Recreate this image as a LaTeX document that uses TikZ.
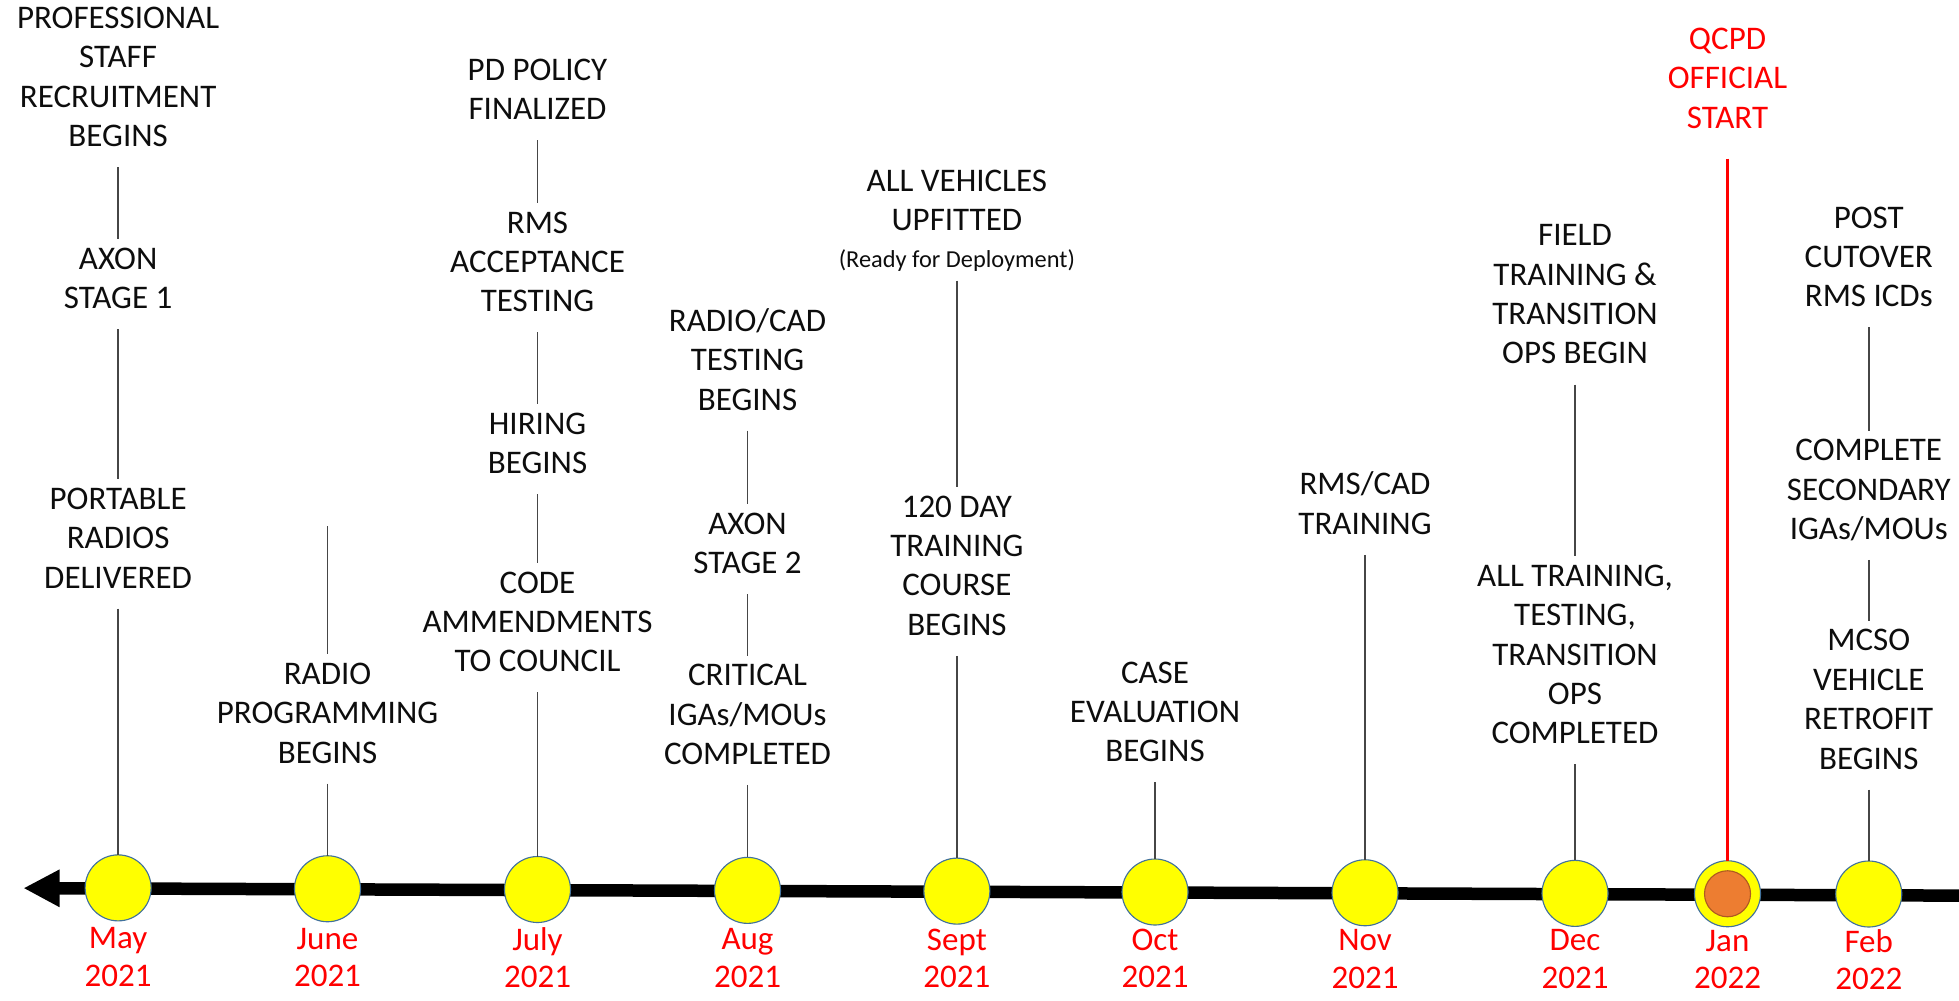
\documentclass[tikz,border=0pt]{standalone}
\usepackage{fontspec}
\setmainfont{Carlito}
\usetikzlibrary{arrows.meta}
\definecolor{dotyellow}{RGB}{255,255,0}
\definecolor{dotedge}{RGB}{65,113,156}
\definecolor{janorange}{RGB}{237,125,49}
\definecolor{janedge}{RGB}{174,90,33}
\definecolor{conngray}{RGB}{70,70,70}
\definecolor{txtblack}{RGB}{13,13,13}
\definecolor{redlbl}{RGB}{255,0,0}
\begin{document}
\begin{tikzpicture}[x=1pt,y=-1pt,
  txt/.style={align=center,inner sep=0pt,outer sep=7pt,text=txtblack,
    font=\fontsize{26.4pt}{31.5pt}\selectfont,
    execute at begin node=\strut,execute at end node=\strut,yshift=-2.2pt},
  small/.style={align=center,inner sep=0pt,outer sep=7pt,text=txtblack,
    font=\fontsize{19.5pt}{24pt}\selectfont,anchor=base},
  redtxt/.style={txt,text=redlbl},
  month/.style={txt,text=redlbl,outer sep=0pt,
    font=\fontsize{26.4pt}{30pt}\selectfont},
  dot/.style={circle,fill=dotyellow,draw=dotedge,line width=0.9pt,
    minimum size=52.8pt,inner sep=0pt,outer sep=0pt},
  inner/.style={circle,fill=janorange,draw=janedge,line width=0.9pt,
    minimum size=36.8pt,inner sep=0pt},
  conn/.style={draw=conngray,line width=1.4pt},
  redline/.style={draw=redlbl,line width=2.6pt},
  axis/.style={draw=black,line width=10pt,-{Triangle[length=29pt,width=28pt]}}
]
\useasboundingbox (0,0) rectangle (1567.2,800);

% axis
\coordinate (L) at (18.7,710.5);
\coordinate (R) at (1567.2,716.5);
\draw[axis] (R) -- (L);

% circles
\node[dot] (may)  at (94.5,710.3) {};
\node[dot] (june) at (262,711.0) {};
\node[dot] (july) at (430,711.6) {};
\node[dot] (aug)  at (598,712.3) {};
\node[dot] (sept) at (765.5,712.9) {};
\node[dot] (oct)  at (924,713.6) {};
\node[dot] (nov)  at (1092,714.2) {};
\node[dot] (dec)  at (1260,714.7) {};
\node[dot] (jan)  at (1382,715.0) {};
\node[inner] (janin) at (jan) {};
\node[dot] (feb)  at (1495,715.2) {};

% month labels
\node[month] (mmay)  at (94.5,768)  {May\\2021};
\node[month] (mjune) at (262,768.2) {June\\2021};
\node[month] (mjuly) at (430,768.4) {July\\2021};
\node[month] (maug)  at (598,768.7) {Aug\\2021};
\node[month] (msept) at (765.5,768.9) {Sept\\2021};
\node[month] (moct)  at (924,769.1) {Oct\\2021};
\node[month] (mnov)  at (1092,769.3) {Nov\\2021};
\node[month] (mdec)  at (1260,769.6) {Dec\\2021};
\node[month] (mjan)  at (1382,769.8) {Jan\\2022};
\node[month] (mfeb)  at (1495,770) {Feb\\2022};

% May
\node[txt] (mA) at (94.5,64) {PROFESSIONAL\\STAFF\\RECRUITMENT\\BEGINS};
\node[txt] (mB) at (94.5,225) {AXON\\STAGE 1};
\node[txt] (mC) at (94.5,433) {PORTABLE\\RADIOS\\DELIVERED};
\draw[conn] (mA) -- (mB);
\draw[conn] (mB) -- (mC);
\draw[conn] (mC) -- (may);

% June
\coordinate (jtop) at (262,421);
\node[txt] (jA) at (262,573) {RADIO\\PROGRAMMING\\BEGINS};
\draw[conn] (jtop) -- (jA);
\draw[conn] (jA) -- (june);

% July
\node[txt] (lA) at (430,74) {PD POLICY\\FINALIZED};
\node[txt] (lB) at (430,212) {RMS\\ACCEPTANCE\\TESTING};
\node[txt] (lC) at (430,357) {HIRING\\BEGINS};
\node[txt] (lD) at (430,500) {CODE\\AMMENDMENTS\\TO COUNCIL};
\draw[conn] (lA) -- (lB);
\draw[conn] (lB) -- (lC);
\draw[conn] (lC) -- (lD);
\draw[conn] (lD) -- (july);

% Aug
\node[txt] (aA) at (598,290) {RADIO/CAD\\TESTING\\BEGINS};
\node[txt] (aB) at (598,437) {AXON\\STAGE 2};
\node[txt] (aC) at (598,574) {CRITICAL\\IGAs/MOUs\\COMPLETED};
\draw[conn] (aA) -- (aB);
\draw[conn] (aB) -- (aC);
\draw[conn] (aC) -- (aug);

% Sept
\node[txt] (sA) at (765.5,163) {ALL VEHICLES\\UPFITTED};
\node[small] (sR) at (765.5,214.3) {(Ready for Deployment)};
\node[txt] (sB) at (765.5,455) {120 DAY\\TRAINING\\COURSE\\BEGINS};
\draw[conn] (sR) -- (sB);
\draw[conn] (sB) -- (sept);

% Oct
\node[txt] (oA) at (924,572) {CASE\\EVALUATION\\BEGINS};
\draw[conn] (oA) -- (oct);

% Nov
\node[txt] (nA) at (1092,405) {RMS/CAD\\TRAINING};
\draw[conn] (nA) -- (nov);

% Dec
\node[txt] (dA) at (1260,238) {FIELD\\TRAINING \&\\TRANSITION\\OPS BEGIN};
\node[txt] (dB) at (1260,526) {ALL TRAINING,\\TESTING,\\TRANSITION\\OPS\\COMPLETED};
\draw[conn] (dA) -- (dB);
\draw[conn] (dB) -- (dec);

% Jan
\node[redtxt] (qA) at (1382,65) {QCPD\\OFFICIAL\\START};
\draw[redline,shorten <=8pt] (qA) -- (jan);

% Feb
\node[txt] (fA) at (1495,208) {POST\\CUTOVER\\RMS ICDs};
\node[txt] (fB) at (1495,394) {COMPLETE\\SECONDARY\\IGAs/MOUs};
\node[txt] (fC) at (1495,562) {MCSO\\VEHICLE\\RETROFIT\\BEGINS};
\draw[conn] (fA) -- (fB);
\draw[conn] (fB) -- (fC);
\draw[conn] (fC) -- (feb);
\end{tikzpicture}
\end{document}
